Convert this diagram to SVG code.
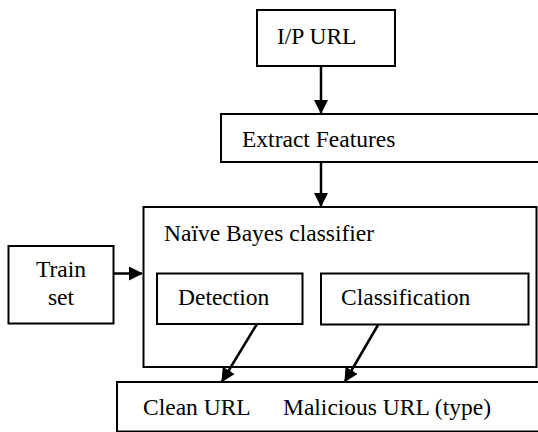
<svg xmlns="http://www.w3.org/2000/svg" width="538" height="432" viewBox="0 0 538 432">
  <style>
    .box { fill: #fff; stroke: #000; stroke-width: 2; }
    .lbl { font-family: "Liberation Serif", "Times New Roman", serif; font-size: 23.5px; fill: #000; }
    .edge { stroke: #000; stroke-width: 2.5; fill: none; marker-end: url(#arrow); }
  </style>
  <defs>
    <marker id="arrow" markerUnits="userSpaceOnUse" markerWidth="14" markerHeight="14" refX="13" refY="7" orient="auto">
      <path d="M0,0 L14,7 L0,14 z" fill="#000"/>
    </marker>
  </defs>
  <rect width="538" height="432" fill="#fff"/>

  <g id="input-url">
    <rect class="box" x="257" y="10" width="138" height="56"/>
    <text class="lbl" x="277" y="43.5">I/P URL</text>
  </g>

  <g id="extract-features">
    <rect class="box" x="221" y="114" width="320" height="48"/>
    <text class="lbl" x="242" y="147">Extract Features</text>
  </g>

  <g id="naive-bayes">
    <rect class="box" x="143.5" y="207" width="393" height="160"/>
    <text class="lbl" x="164" y="240.5">Naïve Bayes classifier</text>
  </g>

  <g id="train-set">
    <rect class="box" x="8.5" y="246" width="105" height="77.5"/>
    <text class="lbl" x="61" y="277" text-anchor="middle">Train</text>
    <text class="lbl" x="61" y="305" text-anchor="middle">set</text>
  </g>

  <g id="detection">
    <rect class="box" x="157" y="273.5" width="145.5" height="50.5"/>
    <text class="lbl" x="178" y="305">Detection</text>
  </g>

  <g id="classification">
    <rect class="box" x="321" y="273.5" width="207.5" height="51"/>
    <text class="lbl" x="341" y="305">Classification</text>
  </g>

  <g id="output">
    <rect class="box" x="117" y="382" width="430" height="49.5"/>
    <text class="lbl" x="143" y="415">Clean URL</text>
    <text class="lbl" x="283" y="415">Malicious URL (type)</text>
  </g>

  <g id="connectors">
    <line class="edge" x1="321" y1="67" x2="321" y2="113"/>
    <line class="edge" x1="321" y1="163" x2="321" y2="206"/>
    <line class="edge" x1="114" y1="273.5" x2="142" y2="273.5"/>
    <line class="edge" x1="257" y1="324" x2="222" y2="381.5"/>
    <line class="edge" x1="378" y1="325" x2="345" y2="381.5"/>
  </g>
</svg>
